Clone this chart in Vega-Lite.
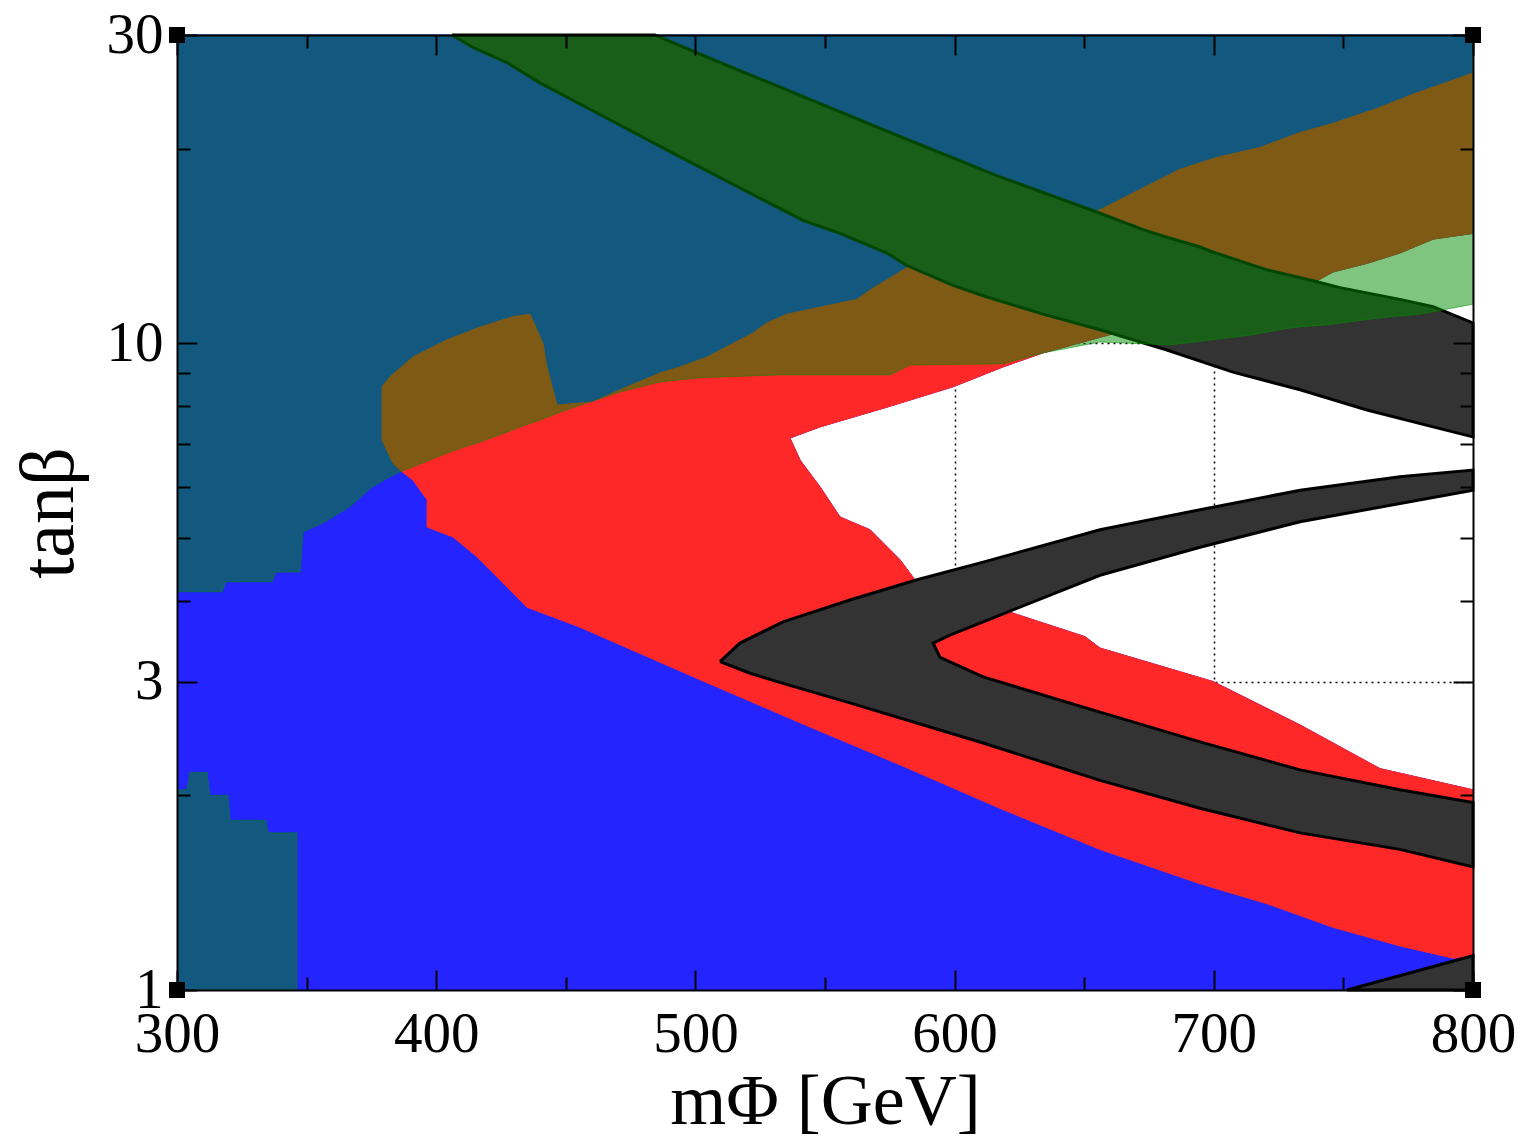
{
  "$schema": "https://vega.github.io/schema/vega-lite/v6.json",
  "width": 1296,
  "height": 955,
  "autosize": "none",
  "padding": {"left": 177, "top": 35, "right": 50, "bottom": 154},
  "background": "white",
  "config": {"view": {"stroke": null}, "font": "Liberation Serif"},
  "datasets": {
    "poly": [
      {"shape": "blue", "x": 300, "y": 30},
      {"shape": "blue", "x": 800, "y": 30},
      {"shape": "blue", "x": 800, "y": 14.8},
      {"shape": "blue", "x": 784.6, "y": 14.5},
      {"shape": "blue", "x": 771.8, "y": 13.8},
      {"shape": "blue", "x": 759.1, "y": 13.3},
      {"shape": "blue", "x": 746.0, "y": 12.9},
      {"shape": "blue", "x": 738.3, "y": 12.4},
      {"shape": "blue", "x": 663.8, "y": 10.42},
      {"shape": "blue", "x": 634.1, "y": 9.67},
      {"shape": "blue", "x": 618.7, "y": 9.2},
      {"shape": "blue", "x": 599.4, "y": 8.57},
      {"shape": "blue", "x": 573.9, "y": 7.97},
      {"shape": "blue", "x": 548.1, "y": 7.43},
      {"shape": "blue", "x": 536.5, "y": 7.14},
      {"shape": "blue", "x": 540.4, "y": 6.6},
      {"shape": "blue", "x": 548.1, "y": 6.0},
      {"shape": "blue", "x": 555.8, "y": 5.39},
      {"shape": "blue", "x": 567.4, "y": 5.15},
      {"shape": "blue", "x": 578.9, "y": 4.63},
      {"shape": "blue", "x": 584.7, "y": 4.31},
      {"shape": "blue", "x": 602.1, "y": 3.67},
      {"shape": "blue", "x": 621.4, "y": 3.84},
      {"shape": "blue", "x": 650.3, "y": 3.52},
      {"shape": "blue", "x": 656.1, "y": 3.38},
      {"shape": "blue", "x": 699.7, "y": 3.0},
      {"shape": "blue", "x": 733.3, "y": 2.57},
      {"shape": "blue", "x": 764.1, "y": 2.2},
      {"shape": "blue", "x": 800, "y": 2.04},
      {"shape": "blue", "x": 800, "y": 1},
      {"shape": "blue", "x": 300, "y": 1},

      {"shape": "red", "x": 800, "y": 26.2},
      {"shape": "red", "x": 776.9, "y": 24.3},
      {"shape": "red", "x": 763.0, "y": 23.1},
      {"shape": "red", "x": 746.0, "y": 21.9},
      {"shape": "red", "x": 733.3, "y": 21.2},
      {"shape": "red", "x": 717.8, "y": 20.1},
      {"shape": "red", "x": 701.2, "y": 19.4},
      {"shape": "red", "x": 687.0, "y": 18.6},
      {"shape": "red", "x": 671.5, "y": 17.3},
      {"shape": "red", "x": 656.1, "y": 16.1},
      {"shape": "red", "x": 581.6, "y": 13.1},
      {"shape": "red", "x": 567.4, "y": 12.1},
      {"shape": "red", "x": 562.3, "y": 11.7},
      {"shape": "red", "x": 535.3, "y": 11.1},
      {"shape": "red", "x": 527.6, "y": 10.76},
      {"shape": "red", "x": 522.2, "y": 10.38},
      {"shape": "red", "x": 514.5, "y": 10.0},
      {"shape": "red", "x": 504.5, "y": 9.53},
      {"shape": "red", "x": 494.1, "y": 9.2},
      {"shape": "red", "x": 486.3, "y": 9.0},
      {"shape": "red", "x": 470.9, "y": 8.48},
      {"shape": "red", "x": 460.5, "y": 8.12},
      {"shape": "red", "x": 446.6, "y": 8.03},
      {"shape": "red", "x": 442.7, "y": 9.2},
      {"shape": "red", "x": 441.2, "y": 10.0},
      {"shape": "red", "x": 436.2, "y": 11.1},
      {"shape": "red", "x": 429.6, "y": 11.0},
      {"shape": "red", "x": 416.9, "y": 10.6},
      {"shape": "red", "x": 404.2, "y": 10.13},
      {"shape": "red", "x": 391.0, "y": 9.53},
      {"shape": "red", "x": 382.2, "y": 8.88},
      {"shape": "red", "x": 379.1, "y": 8.57},
      {"shape": "red", "x": 379.1, "y": 7.09},
      {"shape": "red", "x": 383.3, "y": 6.53},
      {"shape": "red", "x": 386.0, "y": 6.37},
      {"shape": "red", "x": 391.0, "y": 6.15},
      {"shape": "red", "x": 396.5, "y": 5.73},
      {"shape": "red", "x": 396.5, "y": 5.2},
      {"shape": "red", "x": 406.5, "y": 5.02},
      {"shape": "red", "x": 415.7, "y": 4.68},
      {"shape": "red", "x": 424.6, "y": 4.31},
      {"shape": "red", "x": 435.0, "y": 3.91},
      {"shape": "red", "x": 455.5, "y": 3.64},
      {"shape": "red", "x": 501.8, "y": 3.02},
      {"shape": "red", "x": 540.4, "y": 2.59},
      {"shape": "red", "x": 578.9, "y": 2.23},
      {"shape": "red", "x": 617.5, "y": 1.91},
      {"shape": "red", "x": 656.1, "y": 1.65},
      {"shape": "red", "x": 694.7, "y": 1.46},
      {"shape": "red", "x": 720.5, "y": 1.36},
      {"shape": "red", "x": 746.0, "y": 1.25},
      {"shape": "red", "x": 771.8, "y": 1.17},
      {"shape": "red", "x": 792.3, "y": 1.12},
      {"shape": "red", "x": 800, "y": 1.13},
      {"shape": "red", "x": 800, "y": 2.04},
      {"shape": "red", "x": 764.1, "y": 2.2},
      {"shape": "red", "x": 733.3, "y": 2.57},
      {"shape": "red", "x": 699.7, "y": 3.0},
      {"shape": "red", "x": 656.1, "y": 3.38},
      {"shape": "red", "x": 650.3, "y": 3.52},
      {"shape": "red", "x": 621.4, "y": 3.84},
      {"shape": "red", "x": 602.1, "y": 3.67},
      {"shape": "red", "x": 584.7, "y": 4.31},
      {"shape": "red", "x": 578.9, "y": 4.63},
      {"shape": "red", "x": 567.4, "y": 5.15},
      {"shape": "red", "x": 555.8, "y": 5.39},
      {"shape": "red", "x": 548.1, "y": 6.0},
      {"shape": "red", "x": 540.4, "y": 6.6},
      {"shape": "red", "x": 536.5, "y": 7.14},
      {"shape": "red", "x": 548.1, "y": 7.43},
      {"shape": "red", "x": 573.9, "y": 7.97},
      {"shape": "red", "x": 599.4, "y": 8.57},
      {"shape": "red", "x": 618.7, "y": 9.2},
      {"shape": "red", "x": 634.1, "y": 9.67},
      {"shape": "red", "x": 663.8, "y": 10.42},
      {"shape": "red", "x": 738.3, "y": 12.4},
      {"shape": "red", "x": 746.0, "y": 12.9},
      {"shape": "red", "x": 759.1, "y": 13.3},
      {"shape": "red", "x": 771.8, "y": 13.8},
      {"shape": "red", "x": 784.6, "y": 14.5},
      {"shape": "red", "x": 800, "y": 14.8},

      {"shape": "band1", "x": 406.1, "y": 30},
      {"shape": "band1", "x": 414.2, "y": 28.7},
      {"shape": "band1", "x": 427.3, "y": 27.2},
      {"shape": "band1", "x": 440.0, "y": 25.3},
      {"shape": "band1", "x": 463.2, "y": 22.6},
      {"shape": "band1", "x": 490.2, "y": 19.8},
      {"shape": "band1", "x": 517.2, "y": 17.4},
      {"shape": "band1", "x": 541.5, "y": 15.5},
      {"shape": "band1", "x": 555.8, "y": 14.8},
      {"shape": "band1", "x": 573.9, "y": 13.8},
      {"shape": "band1", "x": 581.6, "y": 13.2},
      {"shape": "band1", "x": 599.4, "y": 12.3},
      {"shape": "band1", "x": 612.5, "y": 11.8},
      {"shape": "band1", "x": 634.1, "y": 11.1},
      {"shape": "band1", "x": 656.1, "y": 10.5},
      {"shape": "band1", "x": 681.9, "y": 9.77},
      {"shape": "band1", "x": 707.4, "y": 9.03},
      {"shape": "band1", "x": 733.3, "y": 8.48},
      {"shape": "band1", "x": 759.1, "y": 7.89},
      {"shape": "band1", "x": 784.6, "y": 7.43},
      {"shape": "band1", "x": 800, "y": 7.17},
      {"shape": "band1", "x": 800, "y": 10.76},
      {"shape": "band1", "x": 784.6, "y": 11.4},
      {"shape": "band1", "x": 771.8, "y": 11.7},
      {"shape": "band1", "x": 748.7, "y": 12.2},
      {"shape": "band1", "x": 738.3, "y": 12.5},
      {"shape": "band1", "x": 720.5, "y": 13.0},
      {"shape": "band1", "x": 698.5, "y": 13.9},
      {"shape": "band1", "x": 694.7, "y": 14.1},
      {"shape": "band1", "x": 681.9, "y": 14.6},
      {"shape": "band1", "x": 672.7, "y": 15.0},
      {"shape": "band1", "x": 656.1, "y": 15.9},
      {"shape": "band1", "x": 617.5, "y": 18.1},
      {"shape": "band1", "x": 578.9, "y": 20.9},
      {"shape": "band1", "x": 540.4, "y": 24.2},
      {"shape": "band1", "x": 509.5, "y": 27.2},
      {"shape": "band1", "x": 484.4, "y": 30},
      {"shape": "band1", "x": 406.1, "y": 30},

      {"shape": "band2", "x": 509.5, "y": 3.22},
      {"shape": "band2", "x": 517.2, "y": 3.44},
      {"shape": "band2", "x": 533.8, "y": 3.71},
      {"shape": "band2", "x": 559.6, "y": 4.01},
      {"shape": "band2", "x": 585.5, "y": 4.31},
      {"shape": "band2", "x": 611.0, "y": 4.59},
      {"shape": "band2", "x": 656.1, "y": 5.15},
      {"shape": "band2", "x": 694.7, "y": 5.53},
      {"shape": "band2", "x": 733.3, "y": 5.93},
      {"shape": "band2", "x": 771.8, "y": 6.22},
      {"shape": "band2", "x": 800, "y": 6.37},
      {"shape": "band2", "x": 800, "y": 5.93},
      {"shape": "band2", "x": 733.3, "y": 5.3},
      {"shape": "band2", "x": 694.7, "y": 4.84},
      {"shape": "band2", "x": 656.1, "y": 4.38},
      {"shape": "band2", "x": 617.5, "y": 3.8},
      {"shape": "band2", "x": 598.2, "y": 3.54},
      {"shape": "band2", "x": 591.7, "y": 3.44},
      {"shape": "band2", "x": 594.4, "y": 3.27},
      {"shape": "band2", "x": 611.0, "y": 3.05},
      {"shape": "band2", "x": 656.1, "y": 2.69},
      {"shape": "band2", "x": 694.7, "y": 2.42},
      {"shape": "band2", "x": 733.3, "y": 2.19},
      {"shape": "band2", "x": 771.8, "y": 2.04},
      {"shape": "band2", "x": 800, "y": 1.95},
      {"shape": "band2", "x": 800, "y": 1.55},
      {"shape": "band2", "x": 771.8, "y": 1.65},
      {"shape": "band2", "x": 733.3, "y": 1.75},
      {"shape": "band2", "x": 694.7, "y": 1.91},
      {"shape": "band2", "x": 656.1, "y": 2.11},
      {"shape": "band2", "x": 611.0, "y": 2.41},
      {"shape": "band2", "x": 559.6, "y": 2.78},
      {"shape": "band2", "x": 533.8, "y": 2.98},
      {"shape": "band2", "x": 521.1, "y": 3.09},
      {"shape": "band2", "x": 509.5, "y": 3.22},

      {"shape": "band3", "x": 751.4, "y": 1},
      {"shape": "band3", "x": 800, "y": 1.13},
      {"shape": "band3", "x": 800, "y": 1},
      {"shape": "band3", "x": 751.4, "y": 1},

      {"shape": "green1", "x": 300, "y": 30},
      {"shape": "green1", "x": 800, "y": 30},
      {"shape": "green1", "x": 800, "y": 11.5},
      {"shape": "green1", "x": 779.6, "y": 11.1},
      {"shape": "green1", "x": 764.1, "y": 10.95},
      {"shape": "green1", "x": 744.8, "y": 10.7},
      {"shape": "green1", "x": 729.4, "y": 10.57},
      {"shape": "green1", "x": 714.0, "y": 10.3},
      {"shape": "green1", "x": 683.1, "y": 9.95},
      {"shape": "green1", "x": 656.1, "y": 10.05},
      {"shape": "green1", "x": 634.1, "y": 9.67},
      {"shape": "green1", "x": 618.7, "y": 9.3},
      {"shape": "green1", "x": 582.8, "y": 9.26},
      {"shape": "green1", "x": 575.1, "y": 8.94},
      {"shape": "green1", "x": 532.6, "y": 8.94},
      {"shape": "green1", "x": 501.8, "y": 8.85},
      {"shape": "green1", "x": 486.3, "y": 8.72},
      {"shape": "green1", "x": 470.9, "y": 8.41},
      {"shape": "green1", "x": 459.3, "y": 8.12},
      {"shape": "green1", "x": 447.8, "y": 7.83},
      {"shape": "green1", "x": 440.0, "y": 7.61},
      {"shape": "green1", "x": 432.3, "y": 7.43},
      {"shape": "green1", "x": 426.5, "y": 7.27},
      {"shape": "green1", "x": 416.9, "y": 7.04},
      {"shape": "green1", "x": 411.1, "y": 6.92},
      {"shape": "green1", "x": 403.4, "y": 6.75},
      {"shape": "green1", "x": 393.8, "y": 6.51},
      {"shape": "green1", "x": 386.0, "y": 6.33},
      {"shape": "green1", "x": 382.2, "y": 6.22},
      {"shape": "green1", "x": 375.2, "y": 6.0},
      {"shape": "green1", "x": 366.7, "y": 5.59},
      {"shape": "green1", "x": 357.1, "y": 5.3},
      {"shape": "green1", "x": 348.6, "y": 5.11},
      {"shape": "green1", "x": 347.5, "y": 4.43},
      {"shape": "green1", "x": 338.2, "y": 4.43},
      {"shape": "green1", "x": 336.7, "y": 4.28},
      {"shape": "green1", "x": 318.9, "y": 4.28},
      {"shape": "green1", "x": 317.4, "y": 4.13},
      {"shape": "green1", "x": 300, "y": 4.13},

      {"shape": "green2", "x": 300, "y": 2.04},
      {"shape": "green2", "x": 303.9, "y": 2.04},
      {"shape": "green2", "x": 305.0, "y": 2.17},
      {"shape": "green2", "x": 311.6, "y": 2.17},
      {"shape": "green2", "x": 312.7, "y": 2.0},
      {"shape": "green2", "x": 319.7, "y": 2.0},
      {"shape": "green2", "x": 320.4, "y": 1.83},
      {"shape": "green2", "x": 334.3, "y": 1.83},
      {"shape": "green2", "x": 335.1, "y": 1.75},
      {"shape": "green2", "x": 346.3, "y": 1.75},
      {"shape": "green2", "x": 346.3, "y": 1},
      {"shape": "green2", "x": 300, "y": 1}
    ],
    "corners": [
      {"x": 300, "y": 30},
      {"x": 800, "y": 30},
      {"x": 300, "y": 1},
      {"x": 800, "y": 1}
    ]
  },
  "resolve": {"axis": {"x": "independent", "y": "independent"}},
  "layer": [
    {
      "data": {"name": "poly"},
      "transform": [{"filter": {"field": "shape", "equal": "blue"}}],
      "mark": {"type": "line", "fill": "#2424ff", "stroke": "#2424ff", "strokeWidth": 1},
      "encoding": {
        "x": {"field": "x", "type": "quantitative", "scale": {"domain": [300, 800], "nice": false, "zero": false},
              "axis": {"orient": "bottom", "values": [400, 500, 600, 700], "grid": true, "gridDash": [2, 4], "gridColor": "black", "gridWidth": 1.5, "gridOpacity": 1, "labels": false, "ticks": false, "domain": false, "title": null, "zindex": 0}},
        "y": {"field": "y", "type": "quantitative", "scale": {"type": "log", "domain": [1, 30], "nice": false},
              "axis": {"orient": "left", "values": [3, 10], "grid": true, "gridDash": [2, 4], "gridColor": "black", "gridWidth": 1.5, "gridOpacity": 1, "labels": false, "ticks": false, "domain": false, "title": null, "zindex": 0}},
        "order": {"value": null}
      }
    },
    {
      "data": {"name": "poly"},
      "transform": [{"filter": {"field": "shape", "equal": "red"}}],
      "mark": {"type": "line", "fill": "#ff2828", "stroke": "#ff2828", "strokeWidth": 1},
      "encoding": {
        "x": {"field": "x", "type": "quantitative", "scale": {"domain": [300, 800], "nice": false, "zero": false},
              "axis": {"orient": "bottom", "values": [300, 400, 500, 600, 700, 800], "format": "d", "grid": false, "tickSize": -20, "tickColor": "black", "tickWidth": 2, "labelPadding": 36, "labelFont": "Liberation Serif", "labelFontSize": 57, "labelColor": "black", "labelFlush": false, "labelOverlap": false, "domain": true, "domainColor": "black", "domainWidth": 2, "title": "mΦ [GeV]", "titleFont": "Liberation Serif", "titleFontSize": 72, "titleFontWeight": "normal", "titleColor": "black", "titlePadding": 4, "zindex": 1}},
        "y": {"field": "y", "type": "quantitative", "scale": {"type": "log", "domain": [1, 30], "nice": false},
              "axis": {"orient": "left", "values": [1, 3, 10, 30], "format": "d", "grid": false, "tickSize": -20, "tickColor": "black", "tickWidth": 2, "labelPadding": 34, "labelFont": "Liberation Serif", "labelFontSize": 57, "labelColor": "black", "labelFlush": false, "labelOverlap": false, "domain": true, "domainColor": "black", "domainWidth": 2, "title": "tanβ", "titleFont": "Liberation Serif", "titleFontSize": 76, "titleFontWeight": "normal", "titleColor": "black", "titlePadding": 18, "zindex": 1}},
        "order": {"value": null}
      }
    },
    {
      "data": {"name": "poly"},
      "transform": [{"filter": {"field": "shape", "oneOf": ["band1", "band2", "band3"]}}],
      "mark": {"type": "line", "fill": "#333333", "stroke": "black", "strokeWidth": 3},
      "encoding": {
        "x": {"field": "x", "type": "quantitative", "scale": {"domain": [300, 800], "nice": false, "zero": false},
              "axis": {"orient": "bottom", "values": [350, 450, 550, 650, 750], "grid": false, "tickSize": -13, "tickColor": "black", "tickWidth": 2, "labels": false, "domain": false, "title": null, "zindex": 1}},
        "y": {"field": "y", "type": "quantitative", "scale": {"type": "log", "domain": [1, 30], "nice": false},
              "axis": {"orient": "left", "values": [2, 4, 5, 6, 7, 8, 9, 20], "grid": false, "tickSize": -13, "tickColor": "black", "tickWidth": 2, "labels": false, "domain": false, "title": null, "zindex": 1}},
        "detail": {"field": "shape"},
        "order": {"value": null}
      }
    },
    {
      "data": {"name": "poly"},
      "transform": [{"filter": {"field": "shape", "oneOf": ["green1", "green2"]}}],
      "mark": {"type": "line", "fill": "#008c00", "fillOpacity": 0.5, "stroke": "#008c00", "strokeOpacity": 0.5, "strokeWidth": 1},
      "encoding": {
        "x": {"field": "x", "type": "quantitative", "scale": {"domain": [300, 800], "nice": false, "zero": false},
              "axis": {"orient": "top", "values": [300, 400, 500, 600, 700, 800], "grid": false, "tickSize": -20, "tickColor": "black", "tickWidth": 2, "labels": false, "domain": true, "domainColor": "black", "domainWidth": 2, "title": null, "zindex": 1}},
        "y": {"field": "y", "type": "quantitative", "scale": {"type": "log", "domain": [1, 30], "nice": false},
              "axis": {"orient": "right", "values": [1, 3, 10, 30], "grid": false, "tickSize": -20, "tickColor": "black", "tickWidth": 2, "labels": false, "domain": true, "domainColor": "black", "domainWidth": 2, "title": null, "zindex": 1}},
        "detail": {"field": "shape"},
        "order": {"value": null}
      }
    },
    {
      "data": {"name": "corners"},
      "mark": {"type": "point", "shape": "square", "filled": true, "color": "black", "size": 256, "opacity": 1},
      "encoding": {
        "x": {"field": "x", "type": "quantitative", "scale": {"domain": [300, 800], "nice": false, "zero": false},
              "axis": {"orient": "top", "values": [350, 450, 550, 650, 750], "grid": false, "tickSize": -13, "tickColor": "black", "tickWidth": 2, "labels": false, "domain": false, "title": null, "zindex": 1}},
        "y": {"field": "y", "type": "quantitative", "scale": {"type": "log", "domain": [1, 30], "nice": false},
              "axis": {"orient": "right", "values": [2, 4, 5, 6, 7, 8, 9, 20], "grid": false, "tickSize": -13, "tickColor": "black", "tickWidth": 2, "labels": false, "domain": false, "title": null, "zindex": 1}}
      }
    }
  ]
}
